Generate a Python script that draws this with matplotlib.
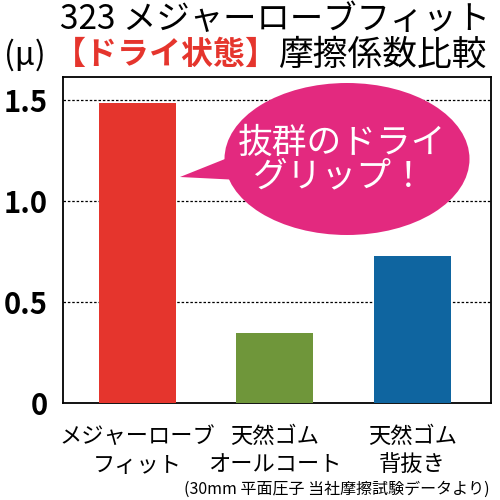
import matplotlib
matplotlib.use("Agg")
import matplotlib.pyplot as plt
from matplotlib.patches import Ellipse, Polygon

plt.rcParams['font.family'] = ['Noto Sans CJK JP', 'DejaVu Sans']

# data
categories = ["メジャーローブ\nフィット", "天然ゴム\nオールコート", "天然ゴム\n背抜き"]
values = [1.485, 0.345, 0.73]
colors = ["#E5352D", "#6F963A", "#0F65A0"]
yticks = [0, 0.5, 1.0, 1.5]
ytick_labels = ["0", "0.5", "1.0", "1.5"]

fig = plt.figure(figsize=(5, 5), dpi=100)
ax = fig.add_axes([0.126, 0.194, 0.856, 0.652])

x = range(len(categories))
ax.bar(x, values, width=0.56, color=colors, zorder=3)

for yv in yticks[1:]:
    ax.axhline(yv, color="black", linestyle=(0, (2, 1.5)), linewidth=0.9, zorder=1)

ax.set_xlim(-0.54, 2.57)
ax.set_ylim(0, 1.614)
ax.set_yticks(yticks)
ax.set_yticklabels(ytick_labels, fontsize=21, fontweight="bold")
ax.set_xticks(list(x))
ax.set_xticklabels(categories, fontsize=16, linespacing=1.3)
ax.tick_params(axis="both", length=0)
ax.tick_params(axis="y", pad=11)
ax.tick_params(axis="x", pad=16)
for s in ax.spines.values():
    s.set_linewidth(1.3)
    s.set_color("black")

# titles
fig.text(0.12, 0.962, "323 メジャーローブフィット", fontsize=24, ha="left", va="center")
fig.text(0.008, 0.89, "(μ)", fontsize=23, ha="left", va="center")
fig.text(0.556, 0.89, "【ドライ状態】", fontsize=23, color="#E5352D",
         fontweight="bold", ha="right", va="center")
fig.text(0.974, 0.89, "摩擦係数比較", fontsize=25, ha="right", va="center")

# speech bubble
pink = "#E3297F"
fig.patches.append(Ellipse((0.694, 0.682), 0.49, 0.304, transform=fig.transFigure,
                           facecolor=pink, edgecolor="none", zorder=5))
fig.patches.append(Polygon([(0.36, 0.646), (0.47, 0.69), (0.48, 0.64)],
                           closed=True, transform=fig.transFigure,
                           facecolor=pink, edgecolor="none", zorder=5))
fig.text(0.685, 0.714, "抜群のドライ", fontsize=25, color="white",
         ha="center", va="center", zorder=6)
fig.text(0.68, 0.646, "グリップ！", fontsize=25, color="white",
         ha="center", va="center", zorder=6)

fig.text(0.98, 0.022, "(30mm 平面圧子 当社摩擦試験データより)", fontsize=11.5,
         ha="right", va="center")

fig.savefig("out.png", dpi=100)
